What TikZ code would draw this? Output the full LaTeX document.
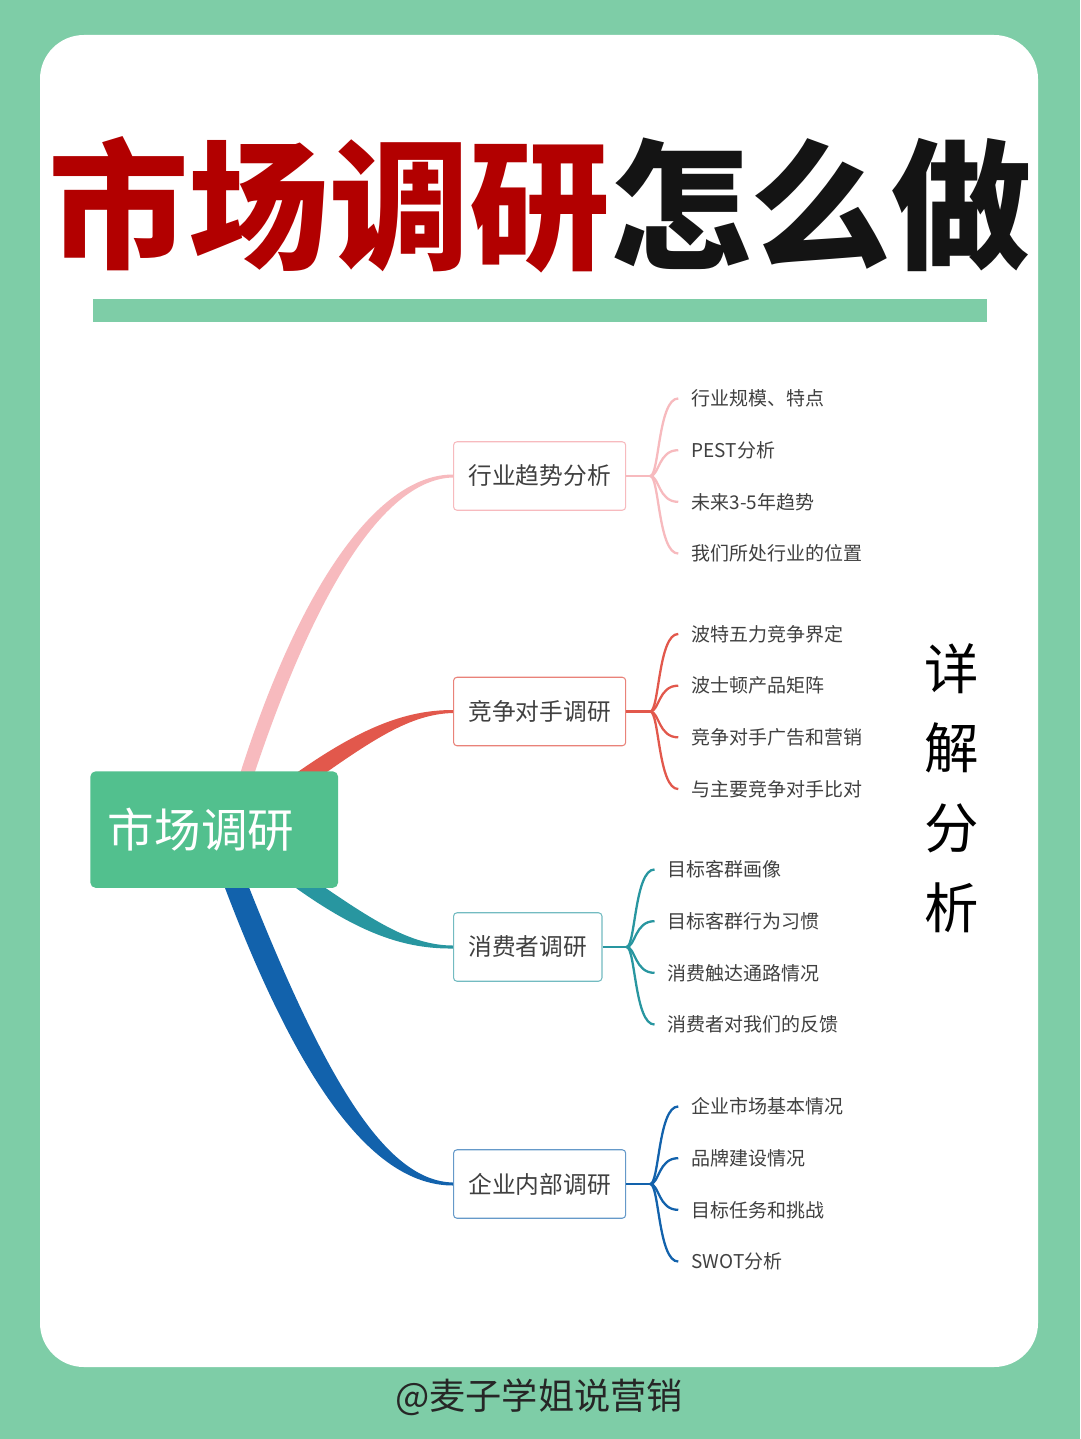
\documentclass[tikz,border=0pt]{standalone}
\usepackage{fontspec}
\setmainfont{Noto Sans CJK SC}
\usetikzlibrary{calc}
\definecolor{mintbg}{RGB}{126,205,167}
\definecolor{rootgreen}{RGB}{82,192,142}
\definecolor{titlered}{RGB}{178,0,0}
\definecolor{trendpink}{RGB}{247,186,190}
\definecolor{rivalred}{RGB}{226,88,76}
\definecolor{userteal}{RGB}{40,150,160}
\definecolor{firmblue}{RGB}{18,98,172}
\definecolor{inkgrey}{RGB}{64,64,64}
\pgfdeclarelayer{bg}
\pgfdeclarelayer{links}
\pgfsetlayers{bg,links,main}

\begin{document}
\begin{tikzpicture}[x=0.02cm, y=-0.02cm,
  every node/.style={text=inkgrey},
  branch/.style={draw, fill=white, rounded corners=2pt, line width=0.6pt, anchor=west,
    minimum height=39pt, inner xsep=8.5pt, font=\fontsize{13.5}{16}\selectfont},
  leaf/.style={anchor=west, inner xsep=7.4pt, font=\fontsize{10.8}{12}\selectfont},
  brace/.style={line width=1.3pt}]
  \useasboundingbox (0,0) rectangle (1080,1439);
  % card and title
  \begin{pgfonlayer}{bg}
    \fill[mintbg] (0,0) rectangle (1080,1439);
    \fill[white, rounded corners=25pt] (40,35) rectangle (1038,1367);
    \fill[mintbg] (93,299) rectangle (987,322);
  \end{pgfonlayer}
  \node[text=black!92, font=\fontsize{80}{90}\selectfont\bfseries] (title) at (540,205)
    {\textcolor{titlered}{市场调研}怎么做};
  % root and branches
  \node[fill=rootgreen, text=white, rounded corners=3pt, anchor=north west, minimum height=66.3pt,
    text width=121pt, inner xsep=10pt, align=left, font=\fontsize{26.5}{30}\selectfont] (root) at (90,771) {市场调研};
  \node[branch, draw=trendpink] (b1) at (453,476) {行业趋势分析};
  \node[branch, draw=rivalred!75] (b2) at (453,711.5) {竞争对手调研};
  \node[branch, draw=userteal!65] (b3) at (453,947) {消费者调研};
  \node[branch, draw=firmblue!65] (b4) at (453,1184) {企业内部调研};
  \begin{pgfonlayer}{links}
    \fill[trendpink] ($(root.north)+(22,15)$) .. controls (300,580) and (380,474.5) .. ($(b1.west)+(0,-1.5)$)
      -- ($(b1.west)+(0,1.5)$) .. controls (386,479) and (316,585) .. ($(root.north)+(36,15)$) -- cycle;
    \fill[rivalred] ($(root.north east)+(-45,4)$) .. controls (360,728) and (405,710) .. ($(b2.west)+(0,-1.5)$)
      -- ($(b2.west)+(0,1.5)$) .. controls (410,714) and (372,740) .. ($(root.north east)+(-30,14)$) -- cycle;
    \fill[userteal] ($(root.south east)+(-30,-12)$) .. controls (372,920) and (410,945.5) .. ($(b3.west)+(0,-1.5)$)
      -- ($(b3.west)+(0,1.5)$) .. controls (405,949) and (360,934) .. ($(root.south east)+(-45,-2)$) -- cycle;
    \fill[firmblue] ($(root.south)+(6,-13)$) .. controls (300,1090) and (375,1185.5) .. ($(b4.west)+(0,1.5)$)
      -- ($(b4.west)+(0,-1.5)$) .. controls (385,1181) and (324,1078) .. ($(root.south)+(30,-13)$) -- cycle;
  \end{pgfonlayer}
  % leaves
  \coordinate (s1) at ($(b1.east)+(24,0)$);
  \draw[brace, trendpink] (b1.east) -- (s1);
  \foreach \t [count=\i] in {行业规模、特点, PEST分析, 未来3-5年趋势, 我们所处行业的位置} {
    \node[leaf] (l1\i) at ($(s1)+(28,{51.7*(\i-2.5)})$) {\t};
    \draw[brace, trendpink] (s1) .. controls +(9,0) and +(-20,0) .. (l1\i.west);
  }
  \coordinate (s2) at ($(b2.east)+(24,0)$);
  \draw[brace, rivalred] (b2.east) -- (s2);
  \foreach \t [count=\i] in {波特五力竞争界定, 波士顿产品矩阵, 竞争对手广告和营销, 与主要竞争对手比对} {
    \node[leaf] (l2\i) at ($(s2)+(28,{51.7*(\i-2.5)})$) {\t};
    \draw[brace, rivalred] (s2) .. controls +(9,0) and +(-20,0) .. (l2\i.west);
  }
  \coordinate (s3) at ($(b3.east)+(24,0)$);
  \draw[brace, userteal] (b3.east) -- (s3);
  \foreach \t [count=\i] in {目标客群画像, 目标客群行为习惯, 消费触达通路情况, 消费者对我们的反馈} {
    \node[leaf] (l3\i) at ($(s3)+(28,{51.7*(\i-2.5)})$) {\t};
    \draw[brace, userteal] (s3) .. controls +(9,0) and +(-20,0) .. (l3\i.west);
  }
  \coordinate (s4) at ($(b4.east)+(24,0)$);
  \draw[brace, firmblue] (b4.east) -- (s4);
  \foreach \t [count=\i] in {企业市场基本情况, 品牌建设情况, 目标任务和挑战, SWOT分析} {
    \node[leaf] (l4\i) at ($(s4)+(28,{51.7*(\i-2.5)})$) {\t};
    \draw[brace, firmblue] (s4) .. controls +(9,0) and +(-20,0) .. (l4\i.west);
  }
  % side note and signature
  \node[text=black, align=center, font=\fontsize{31}{45.4}\selectfont] (side) at (952,788) {详\\解\\分\\析};
  \node[text=black!85, font=\fontsize{20.6}{24}\selectfont] (sign) at (539,1397) {@麦子学姐说营销};
\end{tikzpicture}
\end{document}
